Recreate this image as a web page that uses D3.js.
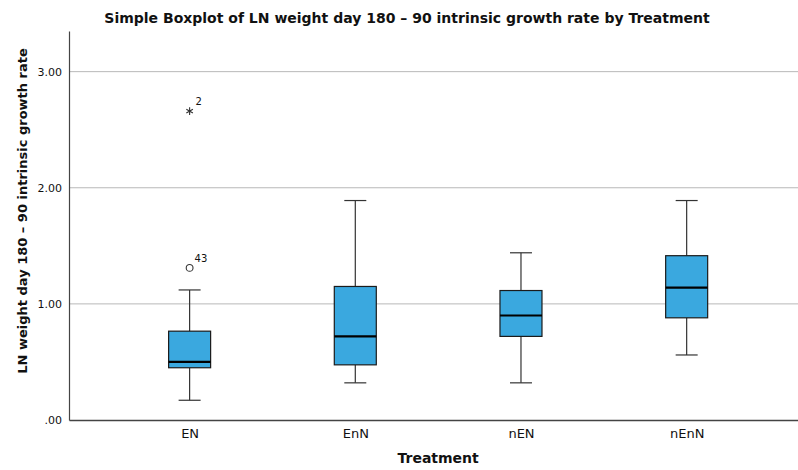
<!DOCTYPE html>
<html>
<head>
<meta charset="utf-8">
<script src="https://cdn.jsdelivr.net/npm/d3@7"></script>
<style>
  body { margin: 0; background: #fff; }
  text { font-family: "DejaVu Sans", sans-serif; fill: #111; }
</style>
</head>
<body>
<div id="chart"></div>
<script>
// Chart data
var treatments = ["EN", "EnN", "nEN", "nEnN"];
var whiskerLow = [0.17, 0.32, 0.32, 0.56];
var q1 = [0.45, 0.475, 0.72, 0.88];
var medians = [0.50, 0.72, 0.90, 1.14];
var q3 = [0.765, 1.15, 1.115, 1.415];
var whiskerHigh = [1.12, 1.89, 1.44, 1.89];

// outliers: circle = mild, star = extreme
var outlierGroup = ["EN", "EN"];
var outlierValue = [1.31, 2.66];
var outlierCase = ["43", "2"];
var outlierKind = ["circle", "star"];

var yTicks = [0, 1, 2, 3];

var svgWidth = 798;
var svgHeight = 470;

var margin = { top: 31, right: 0, bottom: 50, left: 69 };
var width = svgWidth - margin.left - margin.right;
var height = svgHeight - margin.top - margin.bottom;

var svg = d3.select("#chart")
  .append("svg")
  .attr("width", svgWidth)
  .attr("height", svgHeight);

var chartGroup = svg.append("g")
  .attr("transform", `translate(${margin.left}, ${margin.top})`);

// scales
var xScale = d3.scalePoint()
  .domain(treatments)
  .range([0, width])
  .padding(0.7)
  .align(0.52);

var yScale = d3.scaleLinear()
  .domain([0, 3.35])
  .range([height, 0]);

// gridlines
chartGroup.append("g")
  .selectAll("line")
  .data(yTicks.filter(d => d > 0))
  .enter()
  .append("line")
  .attr("x1", 0)
  .attr("x2", width)
  .attr("y1", d => yScale(d))
  .attr("y2", d => yScale(d))
  .attr("stroke", "#b8b8b8")
  .attr("stroke-width", 1);

// y axis
var leftAxis = d3.axisLeft(yScale)
  .tickValues(yTicks)
  .tickSize(0)
  .tickPadding(7)
  .tickFormat(d => d === 0 ? ".00" : d3.format(".2f")(d));

var yAxis = chartGroup.append("g").call(leftAxis);
yAxis.select(".domain").attr("stroke", "#444").attr("stroke-width", 1.2);
yAxis.selectAll("text")
  .style("font-size", "11px")
  .style("font-family", "DejaVu Sans, sans-serif")
  .attr("fill", "#111");

// x axis
var bottomAxis = d3.axisBottom(xScale)
  .tickSize(0)
  .tickPadding(9);

var xAxis = chartGroup.append("g")
  .attr("transform", `translate(0, ${height})`)
  .call(bottomAxis);
xAxis.select(".domain").attr("stroke", "#444").attr("stroke-width", 1.5);
xAxis.selectAll("text")
  .style("font-size", "13px")
  .style("font-family", "DejaVu Sans, sans-serif")
  .attr("fill", "#111");

// boxes
var boxWidth = 42;
var capWidth = 22;

var boxes = treatments.map((t, i) => ({
  name: t,
  low: whiskerLow[i],
  q1: q1[i],
  med: medians[i],
  q3: q3[i],
  high: whiskerHigh[i]
}));

var boxGroup = chartGroup.selectAll(".box")
  .data(boxes)
  .enter()
  .append("g")
  .attr("class", "box")
  .attr("transform", d => `translate(${xScale(d.name)}, 0)`);

// whisker stems
boxGroup.append("line")
  .attr("x1", 0).attr("x2", 0)
  .attr("y1", d => yScale(d.high))
  .attr("y2", d => yScale(d.q3))
  .attr("stroke", "#333").attr("stroke-width", 1.2);

boxGroup.append("line")
  .attr("x1", 0).attr("x2", 0)
  .attr("y1", d => yScale(d.q1))
  .attr("y2", d => yScale(d.low))
  .attr("stroke", "#333").attr("stroke-width", 1.2);

// caps
boxGroup.append("line")
  .attr("x1", -capWidth / 2).attr("x2", capWidth / 2)
  .attr("y1", d => yScale(d.high))
  .attr("y2", d => yScale(d.high))
  .attr("stroke", "#333").attr("stroke-width", 1.2);

boxGroup.append("line")
  .attr("x1", -capWidth / 2).attr("x2", capWidth / 2)
  .attr("y1", d => yScale(d.low))
  .attr("y2", d => yScale(d.low))
  .attr("stroke", "#333").attr("stroke-width", 1.2);

// box body
boxGroup.append("rect")
  .attr("x", -boxWidth / 2)
  .attr("width", boxWidth)
  .attr("y", d => yScale(d.q3))
  .attr("height", d => yScale(d.q1) - yScale(d.q3))
  .attr("fill", "#3aa8df")
  .attr("stroke", "#1b1b1b")
  .attr("stroke-width", 1.2);

// median
boxGroup.append("line")
  .attr("x1", -boxWidth / 2).attr("x2", boxWidth / 2)
  .attr("y1", d => yScale(d.med))
  .attr("y2", d => yScale(d.med))
  .attr("stroke", "#000").attr("stroke-width", 2.2);

// outliers
var outliers = outlierValue.map((v, i) => ({
  group: outlierGroup[i],
  value: v,
  label: outlierCase[i],
  kind: outlierKind[i]
}));

var outlierG = chartGroup.selectAll(".outlier")
  .data(outliers)
  .enter()
  .append("g")
  .attr("class", "outlier")
  .attr("transform", d => `translate(${xScale(d.group)}, ${yScale(d.value)})`);

outlierG.filter(d => d.kind === "circle")
  .append("circle")
  .attr("r", 3.4)
  .attr("fill", "#fff")
  .attr("stroke", "#333")
  .attr("stroke-width", 1.1);

outlierG.filter(d => d.kind === "star")
  .append("path")
  .attr("d", d3.symbol().type(d3.symbolAsterisk).size(40))
  .attr("stroke", "#333")
  .attr("stroke-width", 1.1)
  .attr("fill", "none");

outlierG.append("text")
  .attr("x", d => d.kind === "star" ? 6 : 5)
  .attr("y", -6)
  .style("font-size", "10px")
  .text(d => d.label);

// title
svg.append("text")
  .attr("x", 407)
  .attr("y", 23)
  .attr("text-anchor", "middle")
  .style("font-size", "14px")
  .style("font-weight", "bold")
  .text("Simple Boxplot of LN weight day 180 \u2013 90 intrinsic growth rate by Treatment");

// x axis label
svg.append("text")
  .attr("x", margin.left + xScale("EnN") / 2 + xScale("nEN") / 2)
  .attr("y", 463)
  .attr("text-anchor", "middle")
  .style("font-size", "14px")
  .style("font-weight", "bold")
  .text("Treatment");

// y axis label
svg.append("text")
  .attr("transform", "rotate(-90)")
  .attr("x", -211)
  .attr("y", 27)
  .attr("text-anchor", "middle")
  .style("font-size", "13px")
  .style("font-weight", "bold")
  .text("LN weight day 180 \u2013 90 intrinsic growth rate");
</script>
</body>
</html>
